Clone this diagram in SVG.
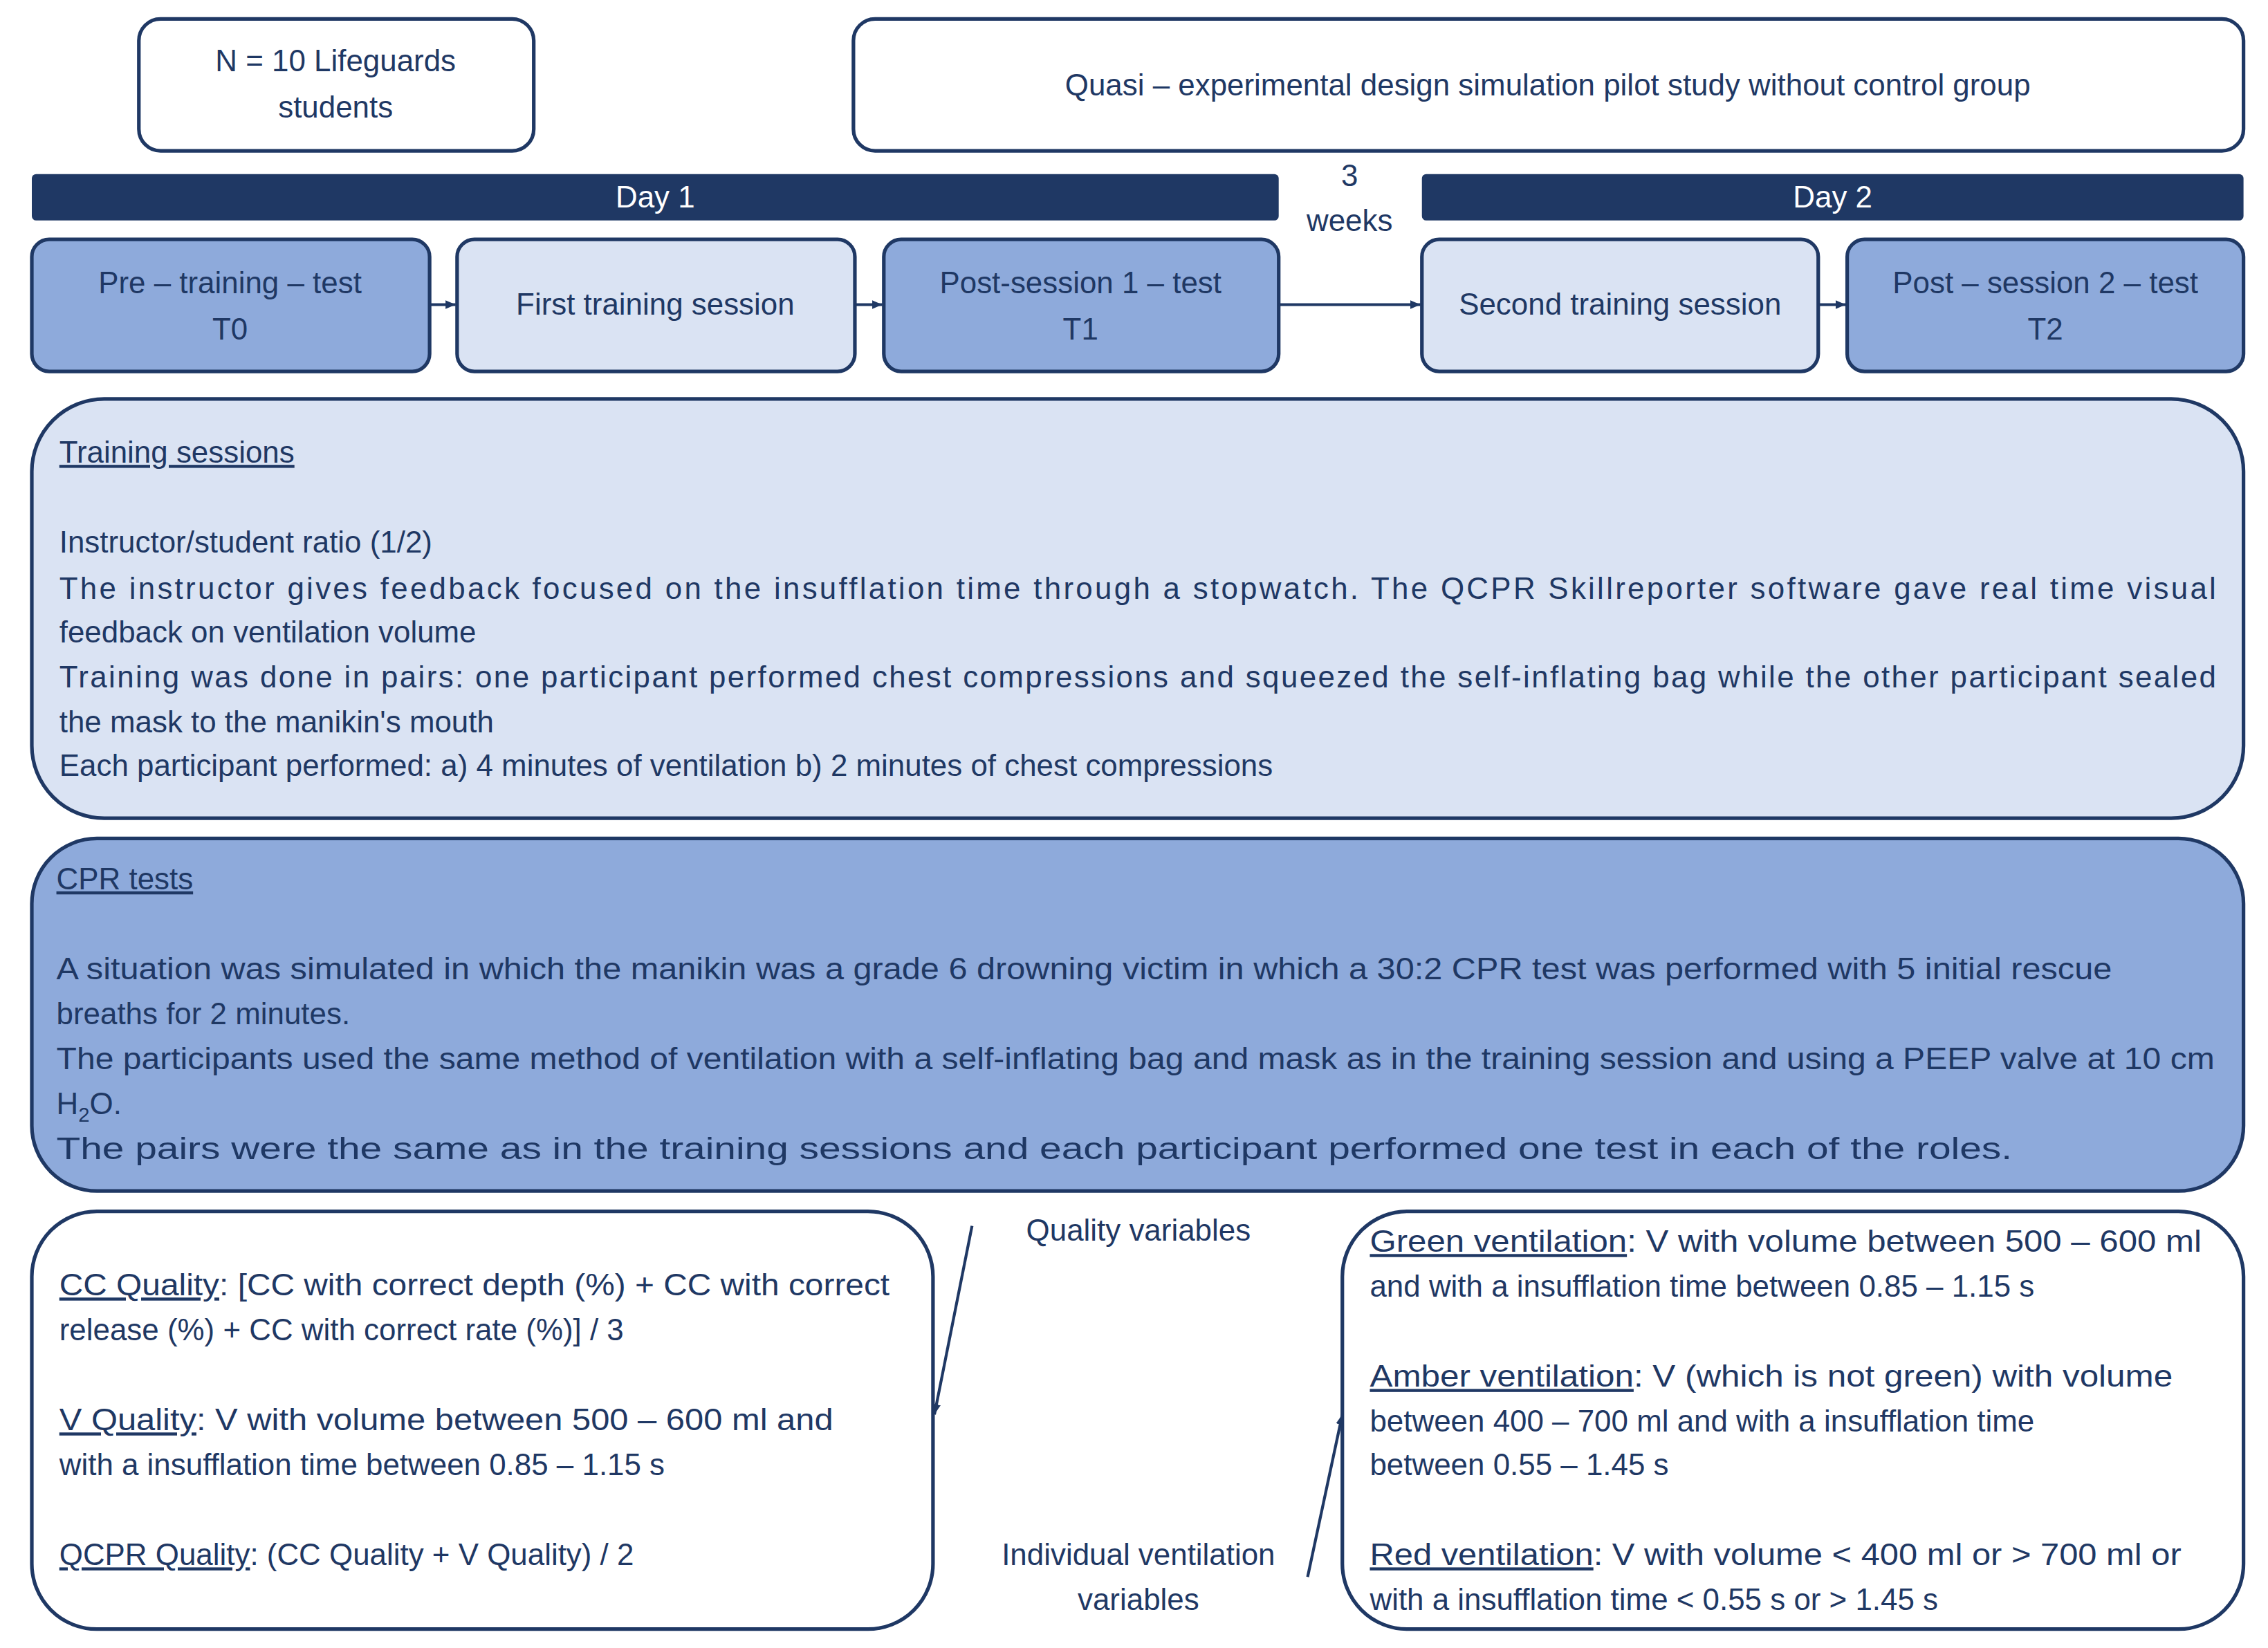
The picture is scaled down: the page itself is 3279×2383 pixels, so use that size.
<svg xmlns="http://www.w3.org/2000/svg" width="3279" height="2383" viewBox="0 0 3279 2383">
<style>
.b{stroke:#1f3864;stroke-width:2.5}
.t{font-family:"Liberation Sans",Arial,sans-serif;font-size:21px;fill:#1f3864}
.c{text-anchor:middle}
.w{fill:#fff}
.d{fill:#8eaadb}
.l{fill:#dae3f3}
.u{text-decoration:underline}
.cn{stroke:#1f3864;stroke-width:2;fill:none}
</style>
<defs><marker id="a" markerWidth="8" markerHeight="8" refX="7" refY="4" orient="auto" markerUnits="userSpaceOnUse"><path d="M0,1 L7,4 L0,7z" fill="#1f3864"/></marker></defs>
<rect width="3279" height="2383" fill="#fff"/>
<g transform="scale(2.0913,2.0977)">
<g id="n"><rect class="b w" x="96" y="13" width="273" height="91" rx="15"/><text class="t c" x="232" y="49">N = 10 Lifeguards</text><text class="t c" x="232" y="81">students</text></g>
<g id="quasi"><rect class="b w" x="590" y="13" width="961" height="91" rx="15"/><text class="t c" x="1070" y="66">Quasi – experimental design simulation pilot study without control group</text></g>
<g id="day1"><rect x="22" y="120" width="862" height="32" rx="3" fill="#1f3864"/><text class="t c" x="453" y="143" fill="#fff" style="fill:#fff">Day 1</text></g>
<g id="day2"><rect x="983" y="120" width="568" height="32" rx="3" fill="#1f3864"/><text class="t c" x="1267" y="143" style="fill:#fff">Day 2</text></g>
<g id="weeks"><text class="t c" x="933" y="128">3</text><text class="t c" x="933" y="159">weeks</text></g>
<g id="t0"><rect class="b d" x="22" y="165" width="275" height="91" rx="12"/><text class="t c" x="159" y="202">Pre – training – test</text><text class="t c" x="159" y="234">T0</text></g>
<g id="s1"><rect class="b l" x="316" y="165" width="275" height="91" rx="12"/><text class="t c" x="453" y="217">First training session</text></g>
<g id="t1"><rect class="b d" x="611" y="165" width="273" height="91" rx="12"/><text class="t c" x="747" y="202">Post-session 1 – test</text><text class="t c" x="747" y="234">T1</text></g>
<g id="s2"><rect class="b l" x="983" y="165" width="274" height="91" rx="12"/><text class="t c" x="1120" y="217">Second training session</text></g>
<g id="t2"><rect class="b d" x="1277" y="165" width="274" height="91" rx="12"/><text class="t c" x="1414" y="202">Post – session 2 – test</text><text class="t c" x="1414" y="234">T2</text></g>
<g id="connectors">
<line class="cn" x1="297" y1="210" x2="315" y2="210" marker-end="url(#a)"/>
<line class="cn" x1="591" y1="210" x2="610" y2="210" marker-end="url(#a)"/>
<line class="cn" x1="884" y1="210" x2="982" y2="210" marker-end="url(#a)"/>
<line class="cn" x1="1257" y1="210" x2="1276" y2="210" marker-end="url(#a)"/>
<line class="cn" x1="672" y1="845" x2="646" y2="975" marker-end="url(#a)"/>
<line class="cn" x1="904" y1="1087" x2="928" y2="975" marker-end="url(#a)"/>
</g>
<g id="training"><rect class="b l" x="22" y="275" width="1529" height="289" rx="50"/>
<text class="t u" x="41" y="319">Training sessions</text>
<text class="t" x="41" y="381">Instructor/student ratio (1/2)</text>
<text class="t" x="41" y="413" textLength="1491" lengthAdjust="spacing">The instructor gives feedback focused on the insufflation time through a stopwatch. The QCPR Skillreporter software gave real time visual</text>
<text class="t" x="41" y="443">feedback on ventilation volume</text>
<text class="t" x="41" y="474" textLength="1491" lengthAdjust="spacing">Training was done in pairs: one participant performed chest compressions and squeezed the self-inflating bag while the other participant sealed</text>
<text class="t" x="41" y="505">the mask to the manikin's mouth</text>
<text class="t" x="41" y="535">Each participant performed: a) 4 minutes of ventilation b) 2 minutes of chest compressions</text></g>
<g id="cpr"><rect class="b d" x="22" y="578" width="1529" height="243" rx="45"/>
<text class="t u" x="39" y="613">CPR tests</text>
<text class="t" x="39" y="675" textLength="1421" lengthAdjust="spacingAndGlyphs">A situation was simulated in which the manikin was a grade 6 drowning victim in which a 30:2 CPR test was performed with 5 initial rescue</text>
<text class="t" x="39" y="706">breaths for 2 minutes.</text>
<text class="t" x="39" y="737" textLength="1492" lengthAdjust="spacingAndGlyphs">The participants used the same method of ventilation with a self-inflating bag and mask as in the training session and using a PEEP valve at 10 cm</text>
<text class="t" x="39" y="768">H<tspan font-size="14" dy="5">2</tspan><tspan dy="-5">O.</tspan></text>
<text class="t" x="39" y="799" textLength="1352" lengthAdjust="spacingAndGlyphs">The pairs were the same as in the training sessions and each participant performed one test in each of the roles.</text></g>
<g id="quality"><rect class="b w" x="22" y="835" width="623" height="288" rx="45"/>
<text class="t" x="41" y="893" textLength="574" lengthAdjust="spacingAndGlyphs"><tspan class="u">CC Quality</tspan>: [CC with correct depth (%) + CC with correct</text>
<text class="t" x="41" y="924">release (%) + CC with correct rate (%)] / 3</text>
<text class="t" x="41" y="986" textLength="535" lengthAdjust="spacingAndGlyphs"><tspan class="u">V Quality</tspan>: V with volume between 500 – 600 ml and</text>
<text class="t" x="41" y="1017">with a insufflation time between 0.85 – 1.15 s</text>
<text class="t" x="41" y="1079"><tspan class="u">QCPR Quality</tspan>: (CC Quality + V Quality) / 2</text></g>
<g id="qv"><text class="t c" x="787" y="855">Quality variables</text></g>
<g id="iv"><text class="t c" x="787" y="1079">Individual ventilation</text><text class="t c" x="787" y="1110">variables</text></g>
<g id="vent"><rect class="b w" x="928" y="835" width="623" height="288" rx="45"/>
<text class="t" x="947" y="863" textLength="575" lengthAdjust="spacingAndGlyphs"><tspan class="u">Green ventilation</tspan>: V with volume between 500 – 600 ml</text>
<text class="t" x="947" y="894">and with a insufflation time between 0.85 – 1.15 s</text>
<text class="t" x="947" y="956" textLength="555" lengthAdjust="spacingAndGlyphs"><tspan class="u">Amber ventilation</tspan>: V (which is not green) with volume</text>
<text class="t" x="947" y="987">between 400 – 700 ml and with a insufflation time</text>
<text class="t" x="947" y="1017">between 0.55 – 1.45 s</text>
<text class="t" x="947" y="1079" textLength="561" lengthAdjust="spacingAndGlyphs"><tspan class="u">Red ventilation</tspan>: V with volume &lt; 400 ml or &gt; 700 ml or</text>
<text class="t" x="947" y="1110">with a insufflation time &lt; 0.55  s or &gt; 1.45 s</text></g>
</g>
</svg>
